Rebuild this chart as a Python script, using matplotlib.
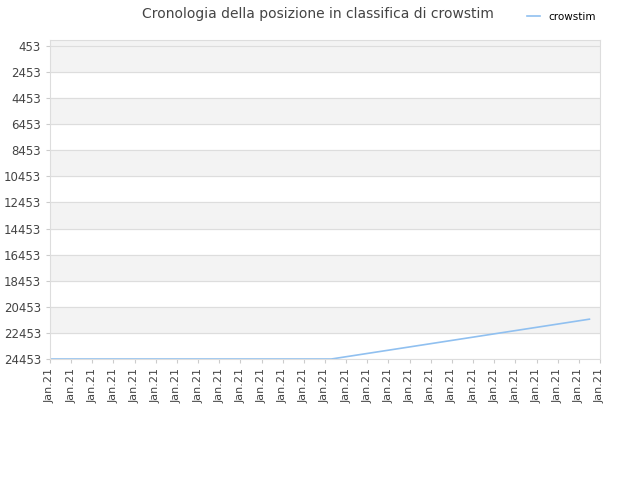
import matplotlib.pyplot as plt

x_labels = ["Jan.21"] * 27
pos_x = [0, 13.3, 25.5]
pos_y = [24453, 24453, 21400]
y_ticks = list(range(453, 24454, 2000))

fig = plt.figure(figsize=(6.4, 4.8), dpi=100)
ax = fig.add_axes([50 / 640, 1 - 359 / 480, 550 / 640, 319 / 480])

ax.set_ylim(24453, 0)
ax.set_xlim(0, 26)

# alternating bands
ax.axhspan(0, 453, color="#f3f3f3", zorder=0)
for i, t in enumerate(y_ticks[:-1]):
    if i % 2 == 0:
        ax.axhspan(t, t + 2000, color="#f3f3f3", zorder=0)
for t in y_ticks:
    ax.axhline(t, color="#dddddd", lw=0.8, zorder=1)

ax.plot(pos_x, pos_y, color="#90c0f0", lw=1.2, label="crowstim", zorder=2)

ax.set_yticks(y_ticks)
ax.set_yticklabels([str(t) for t in y_ticks], fontsize=8.5, color="#444444")
ax.set_xticks(range(27))
ax.set_xticklabels(x_labels, rotation=90, fontsize=8, color="#444444")
ax.tick_params(length=3, color="#cccccc")
for s in ax.spines.values():
    s.set_color("#dddddd")

fig.text(0.497, 0.985, "Cronologia della posizione in classifica di crowstim",
         ha="center", va="top", fontsize=10, color="#444444")
fig.legend(loc="upper right", bbox_to_anchor=(0.945, 0.995), frameon=False,
           fontsize=7.5, handlelength=1.2)

fig.savefig("out.png")
